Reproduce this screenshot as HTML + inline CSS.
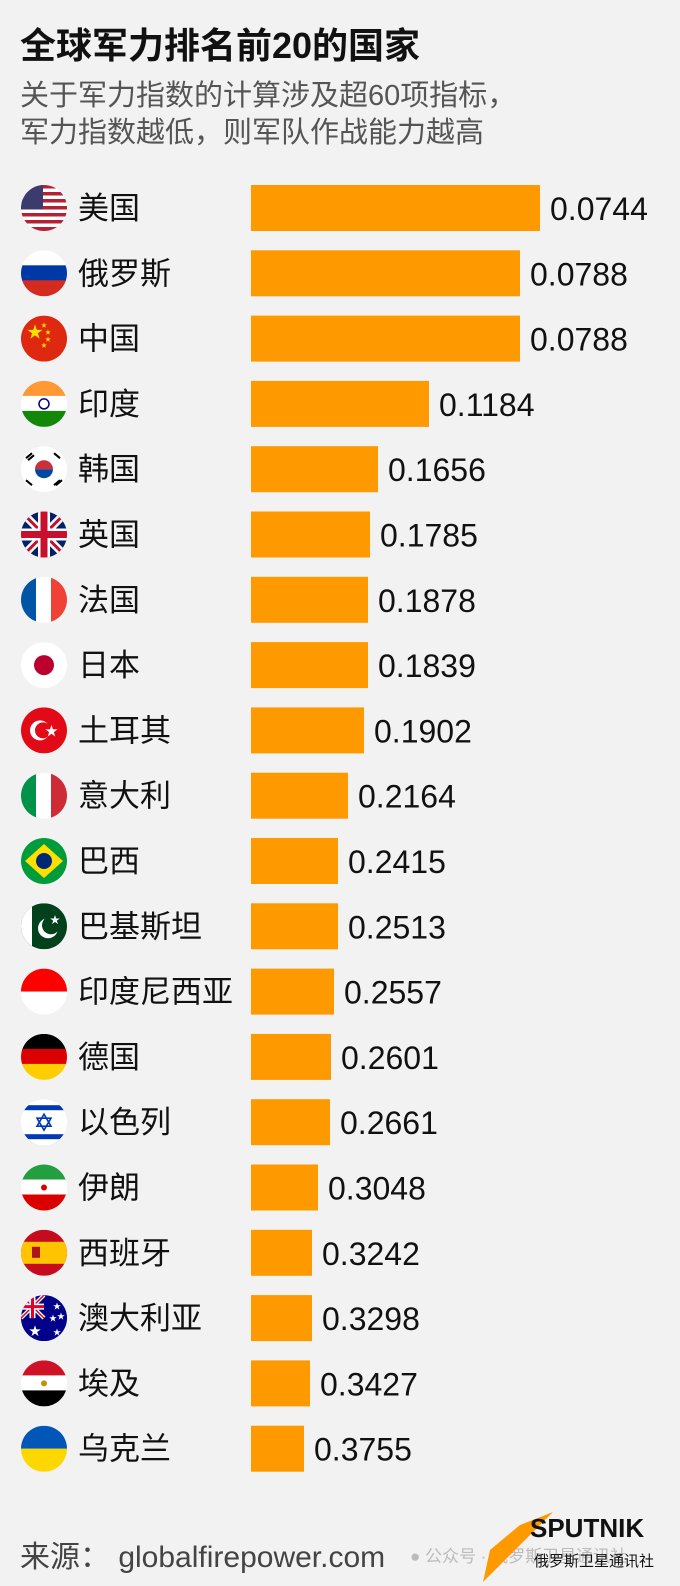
<!DOCTYPE html>
<html><head><meta charset="utf-8"><style>
html,body{margin:0;padding:0;background:#f2f2f2;}
svg{display:block;font-family:"Liberation Sans","Noto Sans CJK SC",sans-serif;}
</style></head><body>
<svg width="680" height="1586" viewBox="0 0 680 1586" xmlns="http://www.w3.org/2000/svg">
<defs><clipPath id="c"><circle cx="23" cy="23" r="23"/></clipPath></defs>
<rect width="680" height="1586" fill="#f2f2f2"/>
<text x="20" y="58" font-size="36" font-weight="bold" fill="#111">全球军力排名前20的国家</text>
<text x="20" y="105" font-size="29" fill="#555">关于军力指数的计算涉及超60项指标，</text>
<text x="20" y="142" font-size="29" fill="#555">军力指数越低，则军队作战能力越高</text>

<g fill="#111">
<g font-size="31">
<text x="78" y="219">美国</text><text x="78" y="284.3">俄罗斯</text><text x="78" y="349.6">中国</text><text x="78" y="414.9">印度</text><text x="78" y="480.2">韩国</text><text x="78" y="545.5">英国</text><text x="78" y="610.8">法国</text><text x="78" y="676.1">日本</text><text x="78" y="741.4">土耳其</text><text x="78" y="806.7">意大利</text><text x="78" y="872">巴西</text><text x="78" y="937.3">巴基斯坦</text><text x="78" y="1002.6">印度尼西亚</text><text x="78" y="1067.9">德国</text><text x="78" y="1133.2">以色列</text><text x="78" y="1198.5">伊朗</text><text x="78" y="1263.8">西班牙</text><text x="78" y="1329.1">澳大利亚</text><text x="78" y="1394.4">埃及</text><text x="78" y="1459.7">乌克兰</text>
</g>
<g font-size="32">
<g transform="translate(0,208)"><rect x="251" y="-23" width="289" height="46" fill="#ff9900"/><text x="550" y="12">0.0744</text>
<g transform="translate(21,-23)" clip-path="url(#c)"><rect width="46" height="46" fill="#fff"/><g fill="#b22234"><rect y="0" width="46" height="3.5"/><rect y="7" width="46" height="3.5"/><rect y="14" width="46" height="3.5"/><rect y="21" width="46" height="3.5"/><rect y="28" width="46" height="3.5"/><rect y="35" width="46" height="3.5"/><rect y="42" width="46" height="4"/></g><rect width="22" height="24.5" fill="#3c3b6e"/></g></g>

<g transform="translate(0,273.3)"><rect x="251" y="-23" width="269" height="46" fill="#ff9900"/><text x="530" y="12">0.0788</text>
<g transform="translate(21,-23)" clip-path="url(#c)"><rect width="46" height="16" fill="#fff"/><rect y="15" width="46" height="16" fill="#0039a6"/><rect y="30" width="46" height="16" fill="#d52b1e"/></g></g>

<g transform="translate(0,338.6)"><rect x="251" y="-23" width="269" height="46" fill="#ff9900"/><text x="530" y="12">0.0788</text>
<g transform="translate(21,-23)" clip-path="url(#c)"><rect width="46" height="46" fill="#de2910"/><text x="6" y="22" font-size="16" fill="#ffde00">★</text><text x="20" y="12" font-size="6" fill="#ffde00">★</text><text x="24" y="19" font-size="6" fill="#ffde00">★</text><text x="24" y="26" font-size="6" fill="#ffde00">★</text><text x="20" y="32" font-size="6" fill="#ffde00">★</text></g></g>

<g transform="translate(0,403.9)"><rect x="251" y="-23" width="178" height="46" fill="#ff9900"/><text x="439" y="12">0.1184</text>
<g transform="translate(21,-23)" clip-path="url(#c)"><rect width="46" height="16" fill="#ff9933"/><rect y="15" width="46" height="16" fill="#fff"/><rect y="30" width="46" height="16" fill="#138808"/><circle cx="23" cy="23" r="5" fill="none" stroke="#000080" stroke-width="1.5"/></g></g>

<g transform="translate(0,469.2)"><rect x="251" y="-23" width="127" height="46" fill="#ff9900"/><text x="388" y="12">0.1656</text>
<g transform="translate(21,-23)" clip-path="url(#c)"><rect width="46" height="46" fill="#fff"/><path d="M14 23a9 9 0 0 1 18 0z" fill="#cd2e3a"/><path d="M14 23a9 9 0 0 0 18 0z" fill="#0047a0"/><g stroke="#000" stroke-width="2"><path d="M5 12l6-5M7 14l6-5M33 7l6 5M35 39l6-5M5 34l6 5M33 39l6-5"/></g></g></g>

<g transform="translate(0,534.5)"><rect x="251" y="-23" width="119" height="46" fill="#ff9900"/><text x="380" y="12">0.1785</text>
<g transform="translate(21,-23)" clip-path="url(#c)"><rect width="46" height="46" fill="#012169"/><path d="M0 0L46 46M46 0L0 46" stroke="#fff" stroke-width="8"/><path d="M0 0L46 46M46 0L0 46" stroke="#c8102e" stroke-width="3"/><path d="M23 0V46M0 23H46" stroke="#fff" stroke-width="12"/><path d="M23 0V46M0 23H46" stroke="#c8102e" stroke-width="7"/></g></g>

<g transform="translate(0,599.8)"><rect x="251" y="-23" width="117" height="46" fill="#ff9900"/><text x="378" y="12">0.1878</text>
<g transform="translate(21,-23)" clip-path="url(#c)"><rect width="16" height="46" fill="#0055a4"/><rect x="15" width="16" height="46" fill="#fff"/><rect x="30" width="16" height="46" fill="#ef4135"/></g></g>

<g transform="translate(0,665.1)"><rect x="251" y="-23" width="117" height="46" fill="#ff9900"/><text x="378" y="12">0.1839</text>
<g transform="translate(21,-23)" clip-path="url(#c)"><rect width="46" height="46" fill="#fff"/><circle cx="23" cy="23" r="10" fill="#bc002d"/></g></g>

<g transform="translate(0,730.4)"><rect x="251" y="-23" width="113" height="46" fill="#ff9900"/><text x="374" y="12">0.1902</text>
<g transform="translate(21,-23)" clip-path="url(#c)"><rect width="46" height="46" fill="#e30a17"/><circle cx="19" cy="23" r="10" fill="#fff"/><circle cx="22" cy="23" r="8" fill="#e30a17"/><text x="24" y="28" font-size="13" fill="#fff">★</text></g></g>

<g transform="translate(0,795.7)"><rect x="251" y="-23" width="97" height="46" fill="#ff9900"/><text x="358" y="12">0.2164</text>
<g transform="translate(21,-23)" clip-path="url(#c)"><rect width="16" height="46" fill="#009246"/><rect x="15" width="16" height="46" fill="#fff"/><rect x="30" width="16" height="46" fill="#ce2b37"/></g></g>

<g transform="translate(0,861)"><rect x="251" y="-23" width="87" height="46" fill="#ff9900"/><text x="348" y="12">0.2415</text>
<g transform="translate(21,-23)" clip-path="url(#c)"><rect width="46" height="46" fill="#009c3b"/><path d="M23 6L42 23L23 40L4 23z" fill="#ffdf00"/><circle cx="23" cy="23" r="8" fill="#002776"/></g></g>

<g transform="translate(0,926.3)"><rect x="251" y="-23" width="87" height="46" fill="#ff9900"/><text x="348" y="12">0.2513</text>
<g transform="translate(21,-23)" clip-path="url(#c)"><rect width="46" height="46" fill="#01411c"/><rect width="11" height="46" fill="#fff"/><circle cx="27" cy="25" r="10" fill="#fff"/><circle cx="30" cy="22" r="9" fill="#01411c"/><text x="29" y="20" font-size="10" fill="#fff">★</text></g></g>

<g transform="translate(0,991.6)"><rect x="251" y="-23" width="83" height="46" fill="#ff9900"/><text x="344" y="12">0.2557</text>
<g transform="translate(21,-23)" clip-path="url(#c)"><rect width="46" height="23" fill="#ff0000"/><rect y="23" width="46" height="23" fill="#fff"/></g></g>

<g transform="translate(0,1056.9)"><rect x="251" y="-23" width="80" height="46" fill="#ff9900"/><text x="341" y="12">0.2601</text>
<g transform="translate(21,-23)" clip-path="url(#c)"><rect width="46" height="16" fill="#000"/><rect y="15" width="46" height="16" fill="#dd0000"/><rect y="30" width="46" height="16" fill="#ffce00"/></g></g>

<g transform="translate(0,1122.2)"><rect x="251" y="-23" width="79" height="46" fill="#ff9900"/><text x="340" y="12">0.2661</text>
<g transform="translate(21,-23)" clip-path="url(#c)"><rect width="46" height="46" fill="#fff"/><rect y="6" width="46" height="5" fill="#0038b8"/><rect y="35" width="46" height="5" fill="#0038b8"/><path d="M23 15L30 27H16z M23 31L16 19H30z" fill="none" stroke="#0038b8" stroke-width="1.6"/></g></g>

<g transform="translate(0,1187.5)"><rect x="251" y="-23" width="67" height="46" fill="#ff9900"/><text x="328" y="12">0.3048</text>
<g transform="translate(21,-23)" clip-path="url(#c)"><rect width="46" height="16" fill="#239f40"/><rect y="15" width="46" height="16" fill="#fff"/><rect y="30" width="46" height="16" fill="#da0000"/><circle cx="23" cy="23" r="3" fill="#da0000"/></g></g>

<g transform="translate(0,1252.8)"><rect x="251" y="-23" width="61" height="46" fill="#ff9900"/><text x="322" y="12">0.3242</text>
<g transform="translate(21,-23)" clip-path="url(#c)"><rect width="46" height="46" fill="#c60b1e"/><rect y="12" width="46" height="22" fill="#ffc400"/><rect x="11" y="17" width="8" height="11" fill="#ad1519"/></g></g>

<g transform="translate(0,1318.1)"><rect x="251" y="-23" width="61" height="46" fill="#ff9900"/><text x="322" y="12">0.3298</text>
<g transform="translate(21,-23)" clip-path="url(#c)"><rect width="46" height="46" fill="#00008b"/><path d="M0 0L23 23M23 0L0 23" stroke="#fff" stroke-width="4"/><path d="M0 0L23 23M23 0L0 23" stroke="#e4002b" stroke-width="1.5"/><path d="M11.5 0V23M0 11.5H23" stroke="#fff" stroke-width="6"/><path d="M11.5 0V23M0 11.5H23" stroke="#e4002b" stroke-width="3"/><g fill="#fff" font-size="8"><text x="8" y="40" font-size="12">★</text><text x="32" y="14">★</text><text x="28" y="26">★</text><text x="36" y="24">★</text><text x="32" y="40">★</text></g></g></g>

<g transform="translate(0,1383.4)"><rect x="251" y="-23" width="59" height="46" fill="#ff9900"/><text x="320" y="12">0.3427</text>
<g transform="translate(21,-23)" clip-path="url(#c)"><rect width="46" height="16" fill="#ce1126"/><rect y="15" width="46" height="16" fill="#fff"/><rect y="30" width="46" height="16" fill="#000"/><circle cx="23" cy="23" r="3" fill="#c09300"/></g></g>

<g transform="translate(0,1448.7)"><rect x="251" y="-23" width="53" height="46" fill="#ff9900"/><text x="314" y="12">0.3755</text>
<g transform="translate(21,-23)" clip-path="url(#c)"><rect width="46" height="23" fill="#0057b7"/><rect y="23" width="46" height="23" fill="#ffd700"/></g></g>
</g>
</g>

<text x="20" y="1567" font-size="30" fill="#444">来源：  globalfirepower.com</text>
<text x="410" y="1562" font-size="17" fill="#bbb">● 公众号 · 俄罗斯卫星通讯社</text>
<path d="M520 1525L553 1512L483 1582L490 1550z" fill="#ff9900"/>
<text x="530" y="1537" font-size="26" font-weight="bold" fill="#111">SPUTNIK</text>
<text x="534" y="1566" font-size="15" fill="#111">俄罗斯卫星通讯社</text>
</svg>
</body></html>
